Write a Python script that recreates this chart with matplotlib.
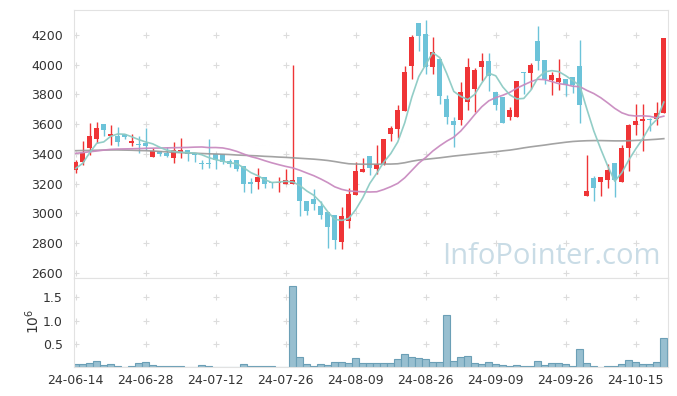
import matplotlib
matplotlib.use("Agg")
import matplotlib.pyplot as plt
import numpy as np
import pandas as pd

# dati (85 sedute, 24-06-14 .. 24-10-21)
opens = [3290, 3347, 3442, 3500, 3602, 3521, 3521, 3535, 3476, 3467,
         3471, 3381, 3419, 3408, 3374, 3408, 3426, 3408, 3340, 3333,
         3397, 3397, 3352, 3356, 3316, 3207, 3213, 3242, 3209, 3205,
         3200, 3200, 3245, 3084, 3097, 3050, 3008, 2990, 2804, 2945,
         3125, 3278, 3383, 3298, 3334, 3536, 3569, 3688, 3994, 4281,
         4207, 3983, 4039, 3770, 3618, 3625, 3748, 3833, 3983, 4028,
         3815, 3780, 3651, 3651, 3947, 3944, 4162, 4029, 3896, 3884,
         3902, 3918, 3989, 3118, 3240, 3207, 3224, 3336, 3207, 3436,
         3591, 3618, 3631, 3633, 3673]
highs = [3358, 3489, 3607, 3611, 3602, 3595, 3580, 3535, 3535, 3521,
         3573, 3437, 3419, 3444, 3478, 3505, 3426, 3408, 3358, 3498,
         3397, 3397, 3365, 3356, 3316, 3236, 3303, 3242, 3209, 3242,
         3296, 4000, 3245, 3084, 3162, 3079, 3008, 2990, 3041, 3173,
         3343, 3372, 3383, 3457, 3498, 3585, 3730, 3994, 4200, 4281,
         4301, 4184, 4039, 3793, 3647, 3882, 4043, 3976, 4079, 4079,
         3815, 3780, 3718, 3889, 3951, 4011, 4262, 4029, 3951, 4040,
         3902, 3918, 4169, 3389, 3251, 3247, 3329, 3336, 3458, 3600,
         3733, 3733, 3640, 3751, 4180]
lows = [3268, 3324, 3392, 3471, 3521, 3460, 3455, 3498, 3453, 3408,
        3426, 3381, 3385, 3376, 3340, 3370, 3354, 3347, 3295, 3306,
        3295, 3330, 3312, 3285, 3146, 3135, 3164, 3169, 3173, 3142,
        3200, 3200, 2979, 2985, 3023, 2963, 2766, 2762, 2760, 2900,
        3124, 3278, 3260, 3267, 3323, 3486, 3507, 3688, 3905, 4095,
        3938, 3938, 3732, 3598, 3446, 3592, 3692, 3681, 3887, 3826,
        3692, 3607, 3629, 3651, 3802, 3836, 3962, 3873, 3796, 3829,
        3791, 3807, 3607, 3118, 3084, 3118, 3173, 3107, 3207, 3285,
        3529, 3418, 3551, 3596, 3673]
closes = [3347, 3403, 3521, 3573, 3557, 3535, 3482, 3512, 3487, 3462,
          3455, 3419, 3397, 3388, 3426, 3426, 3397, 3390, 3329, 3331,
          3356, 3347, 3334, 3298, 3195, 3195, 3242, 3200, 3202, 3209,
          3222, 3222, 3079, 3017, 3064, 2985, 2905, 2822, 2983, 3128,
          3285, 3301, 3305, 3330, 3498, 3574, 3692, 3954, 4184, 4196,
          3983, 4088, 3786, 3647, 3596, 3815, 3983, 3961, 4028, 3927,
          3726, 3609, 3696, 3889, 3944, 4000, 4024, 3902, 3929, 3911,
          3862, 3862, 3729, 3151, 3167, 3247, 3289, 3224, 3436, 3596,
          3622, 3636, 3629, 3673, 4180]
volumes = [64e3, 64e3, 86e3, 136e3, 50e3, 64e3, 29e3, 2e3, 29e3, 86e3,
           107e3, 50e3, 29e3, 29e3, 29e3, 29e3, 2e3, 2e3, 50e3, 29e3,
           2e3, 2e3, 2e3, 2e3, 64e3, 29e3, 29e3, 29e3, 29e3, 2e3,
           2e3, 1743e3, 214e3, 64e3, 29e3, 64e3, 50e3, 107e3, 107e3, 86e3,
           193e3, 86e3, 86e3, 86e3, 86e3, 86e3, 171e3, 279e3, 214e3, 193e3,
           171e3, 107e3, 107e3, 1114e3, 129e3, 214e3, 243e3, 86e3, 64e3, 107e3,
           64e3, 43e3, 21e3, 50e3, 21e3, 21e3, 129e3, 43e3, 86e3, 86e3,
           64e3, 21e3, 386e3, 86e3, 21e3, 2e3, 21e3, 21e3, 64e3, 150e3,
           107e3, 64e3, 64e3, 107e3, 621e3]

# valori iniziali delle medie mobili (prima che la finestra sia piena)
ma5_lead = [3302, 3336, 3408, 3471]
ma20_lead = [3403, 3408, 3414, 3419, 3425, 3430, 3432, 3433, 3434, 3435,
             3437, 3438, 3439, 3440, 3441, 3442, 3443, 3445, 3446]
# media lunga (grigia) letta direttamente
ma_long = [3421, 3422, 3423, 3424, 3425, 3426, 3426, 3425, 3424, 3422,
           3421, 3419, 3416, 3413, 3410, 3408, 3406, 3404, 3402, 3400,
           3399, 3397, 3395, 3392, 3390, 3388, 3386, 3383, 3381, 3378,
           3376, 3373, 3370, 3367, 3364, 3360, 3355, 3348, 3340, 3333,
           3331, 3330, 3330, 3330, 3331, 3331, 3333, 3340, 3350, 3358,
           3363, 3368, 3373, 3379, 3385, 3390, 3395, 3400, 3405, 3410,
           3414, 3420, 3425, 3432, 3440, 3447, 3453, 3459, 3466, 3472,
           3478, 3483, 3486, 3488, 3489, 3489, 3488, 3487, 3487, 3488,
           3490, 3492, 3495, 3498, 3502]

tick_labels = ["24-06-14", "24-06-28", "24-07-12", "24-07-26", "24-08-09",
               "24-08-26", "24-09-09", "24-09-26", "24-10-15"]
tick_pos = [0, 10, 20, 30, 40, 50, 60, 70, 80]

df = pd.DataFrame({"open": opens, "high": highs, "low": lows, "close": closes, "vol": volumes})
x = np.arange(len(df))

# medie mobili calcolate sulle chiusure
ma5 = df["close"].rolling(5).mean().to_numpy()
ma5[:4] = ma5_lead
ma20 = df["close"].rolling(20).mean().to_numpy()
ma20[:19] = ma20_lead

RED = "#ef3436"
CYAN = "#6cc3d9"
GRID = "#dcdcdc"
SPINE = "#e2e2e2"

fig = plt.figure(figsize=(6.77, 3.96), dpi=100)
ax = fig.add_axes([0.1093, 0.298, 0.8774, 0.6767])
axv = fig.add_axes([0.1093, 0.0722, 0.8774, 0.2258], sharex=ax)

# croci della griglia
ylev = [2600, 2800, 3000, 3200, 3400, 3600, 3800, 4000, 4200]
gx, gy = np.meshgrid(tick_pos, ylev)
ax.scatter(gx.ravel(), gy.ravel(), marker="+", s=14, color=GRID, linewidths=0.8, zorder=0)
vlev = [0.5e6, 1.0e6, 1.5e6]
gx, gy = np.meshgrid(tick_pos, vlev)
axv.scatter(gx.ravel(), gy.ravel(), marker="+", s=14, color=GRID, linewidths=0.8, zorder=0)

# candele
up = df["close"] >= df["open"]
colors = np.where(up, RED, CYAN)
body_bot = np.minimum(df["open"], df["close"])
body_h = np.maximum(np.abs(df["close"] - df["open"]), 5)
ax.vlines(x, df["low"], df["high"], colors=colors, linewidth=1.0, zorder=2)
ax.bar(x, body_h, bottom=body_bot, width=0.76, color=colors, zorder=3)

# medie mobili
ax.plot(x, ma_long, color="#999999", linewidth=1.2, alpha=0.9, zorder=4)
ax.plot(x, ma20, color="#c98bc0", linewidth=1.2, alpha=0.95, zorder=4)
ax.plot(x, ma5, color="#8dcbc4", linewidth=1.2, alpha=0.95, zorder=4)

ax.set_xlim(-0.25, 84.6)
ax.set_ylim(2564, 4368)
ax.set_yticks(ylev)
ax.tick_params(axis="x", bottom=False, labelbottom=False)
ax.tick_params(axis="y", length=0, pad=8, labelsize=9, labelcolor="#333333")
for s in ax.spines.values():
    s.set_color(SPINE)

# volumi
axv.bar(x, df["vol"], width=0.95, color="#98bfd0", edgecolor="#6b9fb6", linewidth=0.8, zorder=2)
axv.set_ylim(0, 1.91e6)
axv.set_yticks(vlev)
axv.set_yticklabels(["0.5", "1.0", "1.5"])
axv.set_xticks(tick_pos)
axv.set_xticklabels(tick_labels)
axv.tick_params(axis="both", length=0, labelsize=9, labelcolor="#333333")
axv.tick_params(axis="y", pad=8)
axv.tick_params(axis="x", pad=5)
for s in axv.spines.values():
    s.set_color(SPINE)

fig.text(33 / 677, 1 - 321 / 396, r"$10^6$", rotation=90, ha="center", va="center",
         fontsize=10, color="#333333")

# filigrana
fig.text(551 / 677, 1 - 257 / 396, "InfoPointer.com", ha="center", va="center",
         fontsize=21, color="#c9dce6", family="Open Sans")

fig.savefig("out.png", dpi=100)
